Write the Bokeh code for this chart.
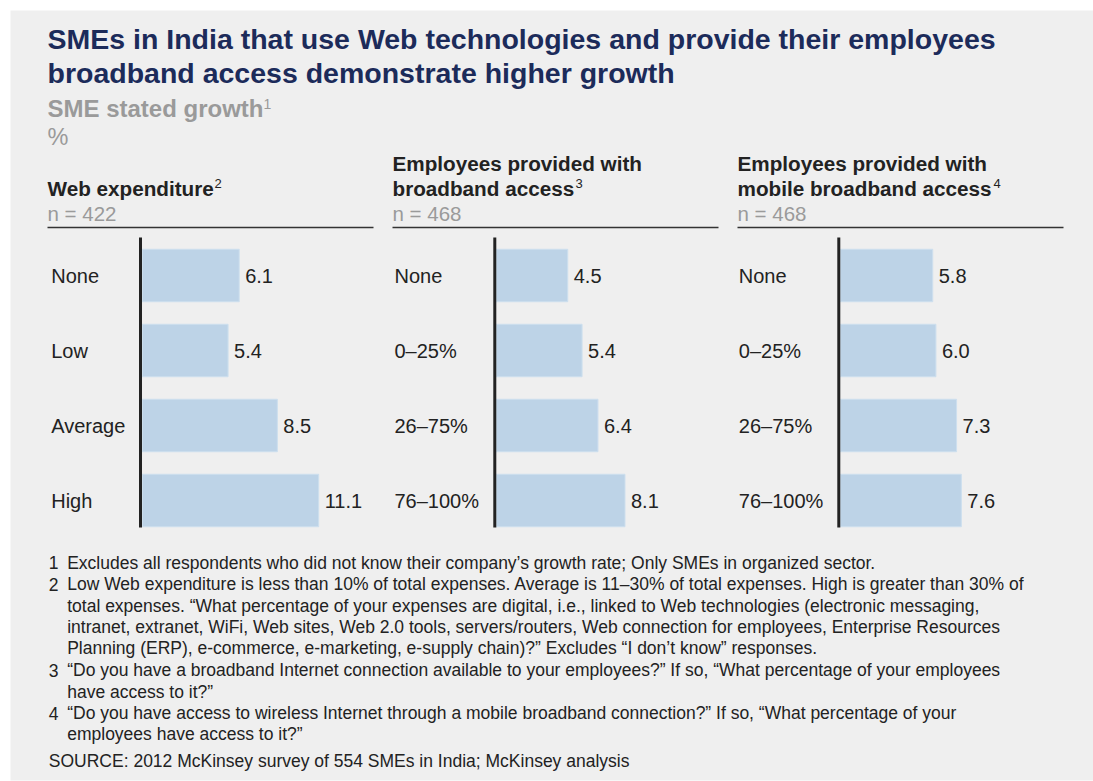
from bokeh.plotting import figure
from bokeh.models import Range1d
from bokeh.core.properties import value
from bokeh.embed import file_html
from bokeh.resources import INLINE

# ---------------- data ----------------
web_cats = ["None", "Low", "Average", "High"]
web_vals = [6.1, 5.4, 8.5, 11.1]
bb_cats = ["None", "0–25%", "26–75%", "76–100%"]
bb_vals = [4.5, 5.4, 6.4, 8.1]
mob_cats = ["None", "0–25%", "26–75%", "76–100%"]
mob_vals = [5.8, 6.0, 7.3, 7.6]
sample_sizes = [422, 468, 468]

title_lines = ["SMEs in India that use Web technologies and provide their employees",
               "broadband access demonstrate higher growth"]
subtitle = "SME stated growth"
unit = "%"
panel_headers = [["Web expenditure"],
                 ["Employees provided with", "broadband access"],
                 ["Employees provided with", "mobile broadband access"]]
panel_notes = ["2", "3", "4"]
footnotes = [
    ("1", "Excludes all respondents who did not know their company’s growth rate; Only SMEs in organized sector."),
    ("2", "Low Web expenditure is less than 10% of total expenses. Average is 11–30% of total expenses. High is greater than 30% of"),
    ("", "total expenses. “What percentage of your expenses are digital, i.e., linked to Web technologies (electronic messaging,"),
    ("", "intranet, extranet, WiFi, Web sites, Web 2.0 tools, servers/routers, Web connection for employees, Enterprise Resources"),
    ("", "Planning (ERP), e-commerce, e-marketing, e-supply chain)?” Excludes “I don’t know” responses."),
    ("3", "“Do you have a broadband Internet connection available to your employees?” If so, “What percentage of your employees"),
    ("", "have access to it?”"),
    ("4", "“Do you have access to wireless Internet through a mobile broadband connection?” If so, “What percentage of your"),
    ("", "employees have access to it?”"),
]
source = "SOURCE: 2012 McKinsey survey of 554 SMEs in India; McKinsey analysis"

# ---------------- layout / style ----------------
FONT = "Liberation Sans"
W, H = 1093, 781
NAVY = "#1c2b5a"
GREY = "#9a9a9a"
DARK = "#222222"
PANEL_BG = "#efefef"
BAR = "#bdd3e7"

panel_x = [47, 392, 737]
axis_x = [140, 494.3, 838.3]
zero_x = [141.7, 495.7, 840.0]
label_x = [50.7, 394, 738.3]
sup_x = [214, 575, 993]
px_per_unit = 15.9
row0, row_step = 275, 75

p = figure(width=W, height=H, output_backend="svg", toolbar_location=None,
           x_range=Range1d(0, W), y_range=Range1d(H, 0),
           x_axis_location=None, y_axis_location=None, min_border=0,
           background_fill_color="white", border_fill_color="white",
           outline_line_color=None)
p.grid.visible = False

p.extra_y_ranges = {"rows": Range1d((H - row0) / row_step, (0 - row0) / row_step)}
for k, z in enumerate(zero_x):
    p.extra_x_ranges[f"p{k}"] = Range1d((0 - z) / px_per_unit, (W - z) / px_per_unit)

# grey panel background
p.quad(left=[10], right=[W + 2], top=[10], bottom=[780],
       fill_color=PANEL_BG, line_color=None)


def txt(x, base, s, size, color, bold=False, align="left", **kw):
    # place by alphabetic baseline, drawn with a middle baseline
    p.text(x=[x], y=[base - 0.36 * size], text=[s], text_font=value(FONT),
           text_font_size=value(f"{size}px"),
           text_font_style="bold" if bold else "normal",
           text_color=color, text_align=align, text_baseline="middle", **kw)


# title & subtitle
txt(47, 48.5, title_lines[0], 28.5, NAVY, bold=True)
txt(47, 83, title_lines[1], 28.5, NAVY, bold=True)
txt(47, 116.5, subtitle, 24, GREY, bold=True)
txt(263, 109, "1", 14, GREY)
txt(47, 145, unit, 23.5, GREY)

# panels
all_cats = [web_cats, bb_cats, mob_cats]
all_vals = [web_vals, bb_vals, mob_vals]
for k in range(3):
    hdr = panel_headers[k]
    base = 195
    for j, line in enumerate(reversed(hdr)):
        txt(panel_x[k], base - j * 24.5, line, 20.7, DARK, bold=True)
    txt(sup_x[k], 188, panel_notes[k], 13, DARK)
    txt(panel_x[k], 220, f"n = {sample_sizes[k]}", 20.5, GREY)
    p.segment(x0=[panel_x[k]], x1=[panel_x[k] + 326], y0=[227], y1=[227],
              line_color="#333333", line_width=1.5)

    cats, vals = all_cats[k], all_vals[k]
    rows = list(range(len(cats)))
    p.hbar(y=rows, left=0, right=vals, height=0.7, fill_color=BAR,
           line_color="#cddfee", line_width=1,
           x_range_name=f"p{k}", y_range_name="rows")
    p.text(x=vals, y=rows, text=[f"{v:.1f}" for v in vals], x_offset=6,
           text_font=value(FONT), text_font_size=value("20px"), text_color=DARK,
           text_align="left", text_baseline="middle",
           x_range_name=f"p{k}", y_range_name="rows")
    p.text(x=[label_x[k]] * len(cats), y=rows, text=cats,
           text_font=value(FONT), text_font_size=value("20px"), text_color=DARK,
           text_align="left", text_baseline="middle", y_range_name="rows")
    p.segment(x0=[axis_x[k]], x1=[axis_x[k]], y0=[237], y1=[527],
              line_color=DARK, line_width=3)

# footnotes
fn_base = [568.5, 590, 611.5, 633, 654, 675.8, 697.5, 719, 740]
for (num, line), yb in zip(footnotes, fn_base):
    if num:
        txt(48.3, yb, num, 17.5, DARK)
    txt(66.7, yb, line, 17.5, DARK)
txt(48.3, 766.5, source, 17.5, DARK)

open("out.html", "w").write(file_html(p, INLINE))
